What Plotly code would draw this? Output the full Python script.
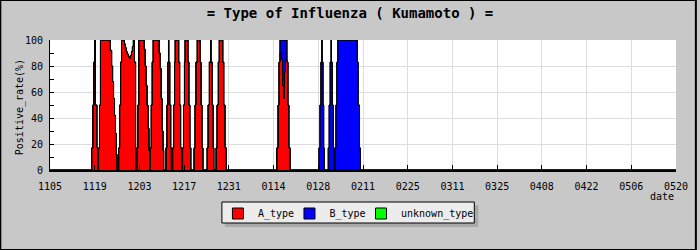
import pandas as pd
import plotly.graph_objects as go

# ---- data (day offsets from 2018-11-05, positive rates in %) ----
start_date = "2018-11-05"
end_date = "2019-05-20"

day_offset = [
    0,
    13.05, 13.4, 13.7, 14.05, 14.15, 14.7, 15.0,
    15.2, 15.5, 15.8, 18.9, 19.3, 19.6, 19.9, 20.2, 20.5, 20.8, 21.0,
    21.5, 21.8, 22.1, 22.4, 23.3, 23.6, 23.9, 24.2, 24.6, 24.9, 25.2, 25.5, 25.8, 26.1, 26.45, 26.8, 27.0,
    27.2, 27.5, 27.8, 29.5, 29.8, 30.1, 30.4, 30.7, 31.0, 31.3,
    31.4, 31.7, 32.0, 32.3, 34.2, 34.5, 34.8, 35.1, 35.4, 35.6,
    36.3, 36.6, 36.9, 37.1, 37.2, 37.5, 37.8, 38.0,
    38.4, 38.7, 39.0, 39.2, 40.3, 40.6, 40.9, 41.2,
    41.5, 41.8, 42.1, 42.3, 43.2, 43.5, 43.8, 44.1,
    45.1, 45.4, 45.7, 46.1, 47.0, 47.3, 47.6, 47.9,
    49.2, 49.5, 49.9, 50.3, 50.4, 50.8, 51.1, 51.3,
    52.0, 52.3, 52.7, 53.0, 54.1, 54.4, 54.8, 55.2,
    71.0, 71.4, 71.7, 72.0, 72.5, 72.8, 73.1, 73.4, 73.7, 74.2, 74.5, 74.8, 75.2,
    84.2, 84.5, 84.8, 85.1, 85.2, 85.5, 85.7, 85.9,
    87.1, 87.4, 87.7, 88.0, 88.1, 88.4, 88.7, 89.0,
    89.2, 89.5, 89.8, 90.1, 96.2, 96.5, 96.9, 97.2,
    196,
]

a_type = [
    0,
    17, 50, 83, 100, 50, 17, 0,
    17, 50, 100, 92, 80, 68, 55, 42, 28, 12, 0,
    17, 50, 83, 100, 97, 94, 91, 89, 87, 86, 88, 91, 95, 100, 83, 17, 0,
    17, 50, 100, 93, 80, 65, 50, 32, 15, 0,
    17, 50, 83, 100, 90, 78, 55, 30, 15, 0,
    17, 50, 83, 100, 83, 50, 17, 0,
    17, 50, 83, 100, 83, 50, 17, 0,
    17, 50, 83, 100, 83, 50, 17, 0,
    17, 50, 83, 100, 83, 50, 17, 0,
    17, 50, 83, 100, 83, 50, 17, 0,
    17, 50, 83, 100, 83, 50, 17, 0,
    17, 50, 83, 90, 85, 65, 55, 75, 85, 83, 50, 17, 0,
    0, 0, 0, 0, 0, 0, 0, 0,
    0, 0, 0, 0, 0, 0, 0, 0,
    0, 0, 0, 0, 0, 0, 0, 0,
    0,
]

b_type = [
    0,
    0, 0, 0, 0, 0, 0, 0,
    0, 0, 0, 0, 0, 0, 0, 0, 0, 0, 0,
    0, 0, 0, 0, 0, 0, 0, 0, 0, 0, 0, 0, 0, 0, 0, 0, 0,
    0, 0, 0, 0, 0, 0, 0, 0, 0, 0,
    0, 0, 0, 0, 0, 0, 0, 0, 0, 0,
    0, 0, 0, 0, 0, 0, 0, 0,
    0, 0, 0, 0, 0, 0, 0, 0,
    0, 0, 0, 0, 0, 0, 0, 0,
    0, 0, 0, 0, 0, 0, 0, 0,
    0, 0, 0, 0, 0, 0, 0, 0,
    0, 0, 0, 0, 0, 0, 0, 0,
    0, 0, 0, 10, 15, 35, 45, 25, 15, 0, 0, 0, 0,
    17, 50, 83, 100, 83, 50, 17, 0,
    17, 50, 83, 100, 83, 50, 17, 0,
    17, 50, 83, 100, 83, 50, 17, 0,
    0,
]

unknown_type = [0] * len(day_offset)

series_names = ["A_type", "B_type", "unknown_type"]
series_colors = ["#ff0000", "#0000ff", "#00ff00"]
legend_ids = ["legend", "legend2", "legend3"]

dates = pd.Timestamp(start_date) + pd.to_timedelta(day_offset, unit="D")

FONT = "DejaVu Sans Mono, Liberation Mono, monospace"

# plot area in pixels: x 50..680, y 40..170
def px(x):
    return (x - 50) / 630

def py(y):
    return (170 - y) / 130

fig = go.Figure()
for name, vals, col in zip(series_names, [a_type, b_type, unknown_type], series_colors):
    fig.add_trace(go.Scatter(
        x=dates, y=vals, mode="lines", stackgroup="one",
        line=dict(shape="hv", color="black", width=1),
        fillcolor=col, showlegend=False, hoverinfo="skip",
    ))
for name, col, lg in zip(series_names, series_colors, legend_ids):
    fig.add_trace(go.Scatter(
        x=[None], y=[None], mode="markers", name=name, legend=lg,
        marker=dict(symbol="square", size=11, color=col,
                    line=dict(color="black", width=1)),
    ))

legend_common = dict(orientation="h", xanchor="left", yanchor="top",
                     y=py(199), traceorder="normal",
                     bgcolor="rgba(0,0,0,0)", borderwidth=0,
                     font=dict(family=FONT, size=10))

fig.update_layout(
    width=700, height=250,
    margin=dict(l=50, r=20, t=40, b=80),
    paper_bgcolor="#c8c8c8", plot_bgcolor="white",
    font=dict(family=FONT, size=10, color="black"),
    title=dict(text="<b>= Type of Influenza ( Kumamoto ) =</b>",
               x=0.5, xanchor="center", y=1 - 13 / 250, yanchor="middle",
               font=dict(family=FONT, size=14, color="black")),
    legend=dict(x=px(219), **legend_common),
    legend2=dict(x=px(291), **legend_common),
    legend3=dict(x=px(363), **legend_common),
    showlegend=True,
)
fig.update_xaxes(
    type="date", range=[start_date, end_date],
    tick0=start_date, dtick=14 * 86400000, tickformat="%m%d",
    ticks="inside", ticklen=5, tickcolor="black", tickwidth=1,
    showline=True, linecolor="black", linewidth=2,
    showgrid=True, gridcolor="#dcdcdc", gridwidth=1,
    ticklabelstandoff=6, zeroline=False,
    tickfont=dict(family=FONT, size=10),
)
fig.update_yaxes(
    range=[0, 100], dtick=20,
    ticks="inside", ticklen=4, tickcolor="black",
    minor=dict(dtick=10, ticks="inside", ticklen=4, tickcolor="black", showgrid=False),
    showline=True, linecolor="black", linewidth=1,
    showgrid=True, gridcolor="#dcdcdc", gridwidth=1,
    zeroline=False, ticklabelstandoff=4,
    tickfont=dict(family=FONT, size=10),
)
fig.add_annotation(text="Positive_rate(%)", xref="paper", yref="paper",
                   x=px(20), xanchor="center", y=py(107), yanchor="middle",
                   textangle=-90, showarrow=False, font=dict(family=FONT, size=10))
fig.add_annotation(text="date", xref="paper", yref="paper",
                   x=1, xanchor="right", y=py(196), yanchor="middle",
                   showarrow=False, font=dict(family=FONT, size=10))
# legend box with drop shadow
fig.add_shape(type="rect", xref="paper", yref="paper",
              x0=px(226), x1=px(481), y0=py(205), y1=py(227),
              line=dict(width=0), fillcolor="#a9a9a9", layer="above")
fig.add_shape(type="rect", xref="paper", yref="paper",
              x0=px(223), x1=px(477), y0=py(202), y1=py(223),
              line=dict(color="black", width=1), fillcolor="#ececec", layer="above")
# outer frame
fig.add_shape(type="rect", xref="paper", yref="paper",
              x0=px(0), x1=px(700), y0=py(250), y1=py(0),
              line=dict(color="black", width=2), layer="below")

fig.write_html("out.html")
